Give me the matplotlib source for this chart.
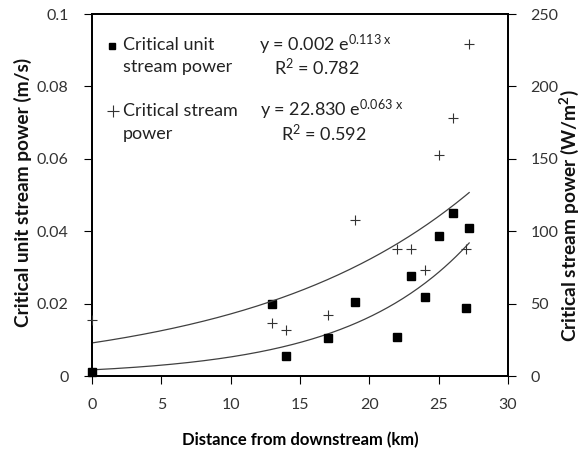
import numpy as np
import matplotlib
matplotlib.use("Agg")
import matplotlib.pyplot as plt

plt.rcParams['font.family'] = ['Lato', 'DejaVu Sans']
plt.rcParams['mathtext.fontset'] = 'custom'
plt.rcParams['mathtext.rm'] = 'Lato'
plt.rcParams['mathtext.it'] = 'Lato'
plt.rcParams['mathtext.bf'] = 'Lato:bold'

# Critical unit stream power (m/s), left axis
unit_x = [0, 13, 14, 17, 19, 22, 23, 24, 25, 26, 27, 27.2]
unit_y = [0.0011, 0.0199, 0.0055, 0.0104, 0.0204, 0.0108, 0.0276, 0.0218, 0.0388, 0.0451, 0.0189, 0.0408]

# Critical stream power (W/m2), right axis
sp_x = [0, 13, 14, 17, 19, 22, 23, 24, 25, 26, 27, 27.2]
sp_y = [38.5, 36.4, 32.0, 42.1, 107.7, 87.7, 87.7, 73.0, 152.6, 178.2, 87.7, 229.1]

# Exponential trend coefficients (a * exp(b x))
unit_a, unit_b = 0.0017, 0.113
sp_a, sp_b = 22.830, 0.063
trend_xmax = 27.2

W, H = 583, 451
fig = plt.figure(figsize=(W / 100, H / 100), dpi=100)
ax = fig.add_axes([92 / W, 1 - 376 / H, 416 / W, 362 / H])
ax2 = ax.twinx()

def P(x, y):
    return (x / W, 1 - y / H)

xx = np.linspace(0, trend_xmax, 200)
ax.plot(xx, unit_a * np.exp(unit_b * xx), color='#404040', lw=0.9, zorder=2)
ax2.plot(xx, sp_a * np.exp(sp_b * xx), color='#404040', lw=0.9, zorder=2)

ax.plot(unit_x, unit_y, ls='none', marker='s', ms=5.6, color='black', zorder=3, clip_on=False)
ax2.plot(sp_x, sp_y, ls='none', marker='+', ms=7.5, mew=0.8, color='#333333', zorder=3, clip_on=False)

ax.set_xlim(0, 30)
ax.set_ylim(0, 0.1)
ax2.set_ylim(0, 250)
ax.set_xticks([0, 5, 10, 15, 20, 25, 30])
ax.set_yticks([0, 0.02, 0.04, 0.06, 0.08, 0.1])
ax.set_yticklabels(['0', '0.02', '0.04', '0.06', '0.08', '0.1'])
ax2.set_yticks([0, 50, 100, 150, 200, 250])

for a in (ax, ax2):
    for s in a.spines.values():
        s.set_linewidth(1.3)
        s.set_color('black')
    a.tick_params(direction='out', length=6, width=0.8, labelsize=11.5, colors='black', pad=10)

for lab in ax.get_xticklabels() + ax.get_yticklabels() + ax2.get_yticklabels():
    lab.set_color('#333333')
ax.tick_params(axis='x', pad=10)
ax.tick_params(axis='y', pad=11)

ax.set_xlabel('Distance from downstream (km)', fontsize=12.0, fontweight='bold', labelpad=14)
fig.text(*P(23, 192), 'Critical unit stream power (m/s)', fontsize=13.8, fontweight='bold',
         rotation=90, ha='center', va='center', color='#111111')
fig.text(*P(569, 216), r'Critical stream power (W/m$^\mathbf{2}$)', fontsize=13.8, fontweight='bold',
         rotation=90, ha='center', va='center', color='#111111')

txt_fs = 13
tc = '#222222'
# legend (manual)
fig.add_artist(plt.Line2D([112 / W], [1 - 46 / H], ls='none', marker='s', ms=5,
                          color='black', transform=fig.transFigure))
fig.add_artist(plt.Line2D([113 / W], [1 - 111 / H], ls='none', marker='+', ms=8, mew=0.8,
                          color='#333333', transform=fig.transFigure))
fig.text(*P(123, 45), 'Critical unit', fontsize=txt_fs, va='center', ha='left', color=tc)
fig.text(*P(123, 67), 'stream power', fontsize=txt_fs, va='center', ha='left', color=tc)
fig.text(*P(123, 111), 'Critical stream', fontsize=txt_fs, va='center', ha='left', color=tc)
fig.text(*P(123, 134), 'power', fontsize=txt_fs, va='center', ha='left', color=tc)

# trend equations
fig.text(*P(259, 45), r'y = 0.002 e$^{0.113\ \mathregular{x}}$', fontsize=txt_fs,
         va='center', ha='left', color=tc)
fig.text(*P(317, 67), r'R$^2$ = 0.782', fontsize=txt_fs, va='center', ha='center', color=tc)
fig.text(*P(260, 110), r'y = 22.830 e$^{0.063\ \mathregular{x}}$', fontsize=txt_fs,
         va='center', ha='left', color=tc)
fig.text(*P(324, 133), r'R$^2$ = 0.592', fontsize=txt_fs, va='center', ha='center', color=tc)

fig.savefig('out.png', dpi=100)
